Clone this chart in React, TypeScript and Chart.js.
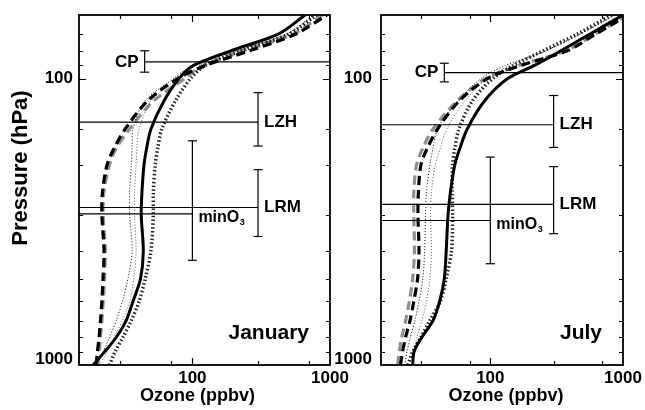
import React, { useEffect, useRef } from 'react';
import { Chart, registerables } from 'chart.js';
Chart.register(...registerables);

const FONT = '"Liberation Sans", Arial, Helvetica, sans-serif';

// Axis ranges and labels
const ozoneMin = 15;
const ozoneMax = 1000;
const pressureTop = 60;
const pressureBottom = 1000;
const xTickLabels = [100, 1000];
const yTickLabels = [100, 1000];

// Pressure levels (hPa) shared by all profiles
const pressureLevels = [1000, 900, 800, 700, 600, 500, 400, 300, 250, 200, 175, 150, 120, 100, 90, 80, 70, 60];

// January ozone profiles (ppbv)
const janSolid = [19, 23, 28, 33, 37, 42, 44, 42.5, 43, 44.5, 46.5, 50, 62, 80, 102, 190, 420, 660];
const janDashed = [20, 20.4, 21, 21.5, 22, 22.4, 22.8, 22, 22.2, 24, 27, 32.5, 47, 78, 125, 260, 560, 950];
const janGrayDashed = [20.5, 21, 21.5, 22, 22.5, 23, 23.3, 22.5, 22.7, 25, 28, 35, 52, 88, 118, 240, 540, 880];
const janThickDotted = [25, 27.4, 31.3, 36, 41, 45.4, 50, 52, 52, 53.7, 56, 60, 75, 97, 124, 225, 500, 800];
const janThinDottedA = [20, 22.4, 25, 28, 31, 34, 36.5, 35, 35, 36, 36.5, 37, 45, 73, 100, 210, 480, 760];
const janThinDottedB = [21, 24, 27, 31, 35, 37.5, 39, 38, 38, 39, 39.5, 41, 50, 78, 105, 215, 490, 780];

// July ozone profiles (ppbv)
const julSolid = [26, 26.6, 30.5, 37, 41.5, 45, 46.5, 48, 50, 54, 59, 67, 90, 135, 215, 340, 560, 1000];
const julDashed = [21, 21.8, 23, 24.8, 26.5, 28.3, 29, 28.5, 28.7, 30, 33.5, 40, 58, 95, 170, 380, 620, 1100];
const julGrayDashed = [20, 20.6, 21.5, 23, 24.5, 26, 26.8, 26.5, 26.5, 27.8, 31, 37, 56, 92, 165, 370, 610, 1080];
const julThickDotted = [24, 26, 30, 35, 42, 46.5, 51, 52, 51.5, 52, 54, 58, 73, 104, 150, 250, 450, 820];
const julThinDottedA = [22.7, 23.5, 25, 27, 29, 31, 32, 32.5, 33, 35, 37, 40, 57, 85, 130, 260, 470, 860];
const julThinDottedB = [25.5, 26.5, 28, 30.5, 33, 35, 36, 35.5, 36, 38.5, 42, 47, 64, 95, 140, 265, 480, 880];

// Marker levels: names, side of the level line, pressure, range bar position & extent
const markerNames = ['CP', 'LZH', 'LRM', 'minO'];
const markerSub = ['', '', '', '3'];
const markerSide = ['right', 'left', 'left', 'left'];
const janMarkerP = [87.5, 142, 282, 297];
const janBarX = [45, 300, 300, 100];
const janBarLow = [80, 112, 208, 165];
const janBarHigh = [95, 172, 356, 431];
const julMarkerP = [95.3, 145, 275, 313];
const julBarX = [45, 300, 300, 100];
const julBarLow = [88.4, 114.6, 203, 188];
const julBarHigh = [102.7, 174, 348, 443];

type PanelDef = {
  month: string;
  series: number[][];
  markerP: number[];
  barX: number[];
  barLow: number[];
  barHigh: number[];
  showYTitle: boolean;
  yLabelGap: number;
  xTitleShift: number;
  padding: { left: number; right: number; top: number; bottom: number };
};

const janDef: PanelDef = {
  month: 'January',
  series: [janSolid, janDashed, janThickDotted, janThinDottedA, janThinDottedB, janGrayDashed],
  markerP: janMarkerP, barX: janBarX, barLow: janBarLow, barHigh: janBarHigh,
  showYTitle: true, yLabelGap: 6, xTitleShift: -7,
  padding: { left: 79, right: 20, top: 15, bottom: 45 },
};
const julDef: PanelDef = {
  month: 'July',
  series: [julSolid, julDashed, julThickDotted, julThinDottedA, julThinDottedB, julGrayDashed],
  markerP: julMarkerP, barX: julBarX, barLow: julBarLow, barHigh: julBarHigh,
  showYTitle: false, yLabelGap: 9, xTitleShift: 4,
  padding: { left: 51, right: 22, top: 15, bottom: 45 },
};

const seriesStyles = [
  { label: 'solid', color: '#000', width: 3, dash: [] as number[] },
  { label: 'dashed', color: '#000', width: 3.2, dash: [9, 5] },
  { label: 'thick dotted', color: '#222', width: 3.5, dash: [1.5, 2.3] },
  { label: 'thin dotted A', color: '#000', width: 1, dash: [1, 2] },
  { label: 'thin dotted B', color: '#555', width: 1, dash: [1, 2] },
  { label: 'gray dashed', color: '#8f8f8f', width: 3.2, dash: [9, 5] },
];

function isDecade(v: number) {
  const l = Math.log10(v);
  return Math.abs(l - Math.round(l)) < 1e-6;
}

function makeDecor(def: PanelDef) {
  return {
    id: 'decor',
    afterDatasetsDraw(chart: any) {
      const { ctx, chartArea: a, scales } = chart;
      const xs = scales.x;
      const ys = scales.y;
      ctx.save();
      ctx.strokeStyle = '#000';
      // inward ticks on all four sides
      ctx.lineWidth = 1.2;
      ctx.beginPath();
      xs.ticks.forEach((t: any) => {
        const v = t.value;
        if (v <= xs.min * 1.001 || v >= xs.max * 0.999) return;
        const px = Math.round(xs.getPixelForValue(v)) + 0.5;
        const len = isDecade(v) ? 7 : 4;
        ctx.moveTo(px, a.bottom); ctx.lineTo(px, a.bottom - len);
        ctx.moveTo(px, a.top); ctx.lineTo(px, a.top + len);
      });
      ys.ticks.forEach((t: any) => {
        const v = t.value;
        if (v <= ys.min * 1.001 || v >= ys.max * 0.999) return;
        const py = Math.round(ys.getPixelForValue(v)) + 0.5;
        const len = isDecade(v) ? 7 : 4;
        ctx.moveTo(a.left, py); ctx.lineTo(a.left + len, py);
        ctx.moveTo(a.right, py); ctx.lineTo(a.right - len, py);
      });
      ctx.stroke();
      // frame
      ctx.lineWidth = 1.8;
      ctx.strokeRect(a.left, a.top, a.right - a.left, a.bottom - a.top);

      ctx.fillStyle = '#000';
      // tick labels
      ctx.font = `bold 17px ${FONT}`;
      ctx.textAlign = 'right';
      ctx.textBaseline = 'middle';
      yTickLabels.forEach((v) => {
        const py = Math.min(ys.getPixelForValue(v), a.bottom - 6);
        ctx.fillText(String(v), a.left - def.yLabelGap, py);
      });
      ctx.textAlign = 'center';
      ctx.textBaseline = 'alphabetic';
      xTickLabels.forEach((v) => {
        ctx.fillText(String(v), xs.getPixelForValue(v), a.bottom + 18);
      });
      // axis titles
      ctx.font = `bold 18px ${FONT}`;
      ctx.fillText('Ozone (ppbv)', (a.left + a.right) / 2 + def.xTitleShift, a.bottom + 36);
      if (def.showYTitle) {
        ctx.save();
        ctx.translate(21, 168);
        ctx.rotate(-Math.PI / 2);
        ctx.font = `bold 22px ${FONT}`;
        ctx.textAlign = 'center';
        ctx.textBaseline = 'middle';
        ctx.fillText('Pressure (hPa)', 0, 0);
        ctx.restore();
      }
      // month label
      ctx.font = `bold 21px ${FONT}`;
      ctx.textAlign = 'right';
      ctx.textBaseline = 'alphabetic';
      ctx.fillText(def.month, a.right - 21, 339);

      // marker labels
      markerNames.forEach((name, i) => {
        const bx = xs.getPixelForValue(def.barX[i]);
        const ly = ys.getPixelForValue(def.markerP[i]);
        ctx.textBaseline = 'middle';
        if (markerSide[i] === 'right') {
          ctx.font = `bold 17px ${FONT}`;
          ctx.textAlign = 'right';
          ctx.fillText(name, bx - 6, ly);
        } else if (markerSub[i]) {
          ctx.font = `bold 16px ${FONT}`;
          ctx.textAlign = 'left';
          const ty = ly + 4;
          ctx.fillText(name, bx + 6, ty);
          const w = ctx.measureText(name).width;
          ctx.font = `bold 9px ${FONT}`;
          ctx.fillText(markerSub[i], bx + 6 + w + 0.5, ty + 5);
        } else {
          ctx.font = `bold 17px ${FONT}`;
          ctx.textAlign = 'left';
          ctx.fillText(name, bx + 6, ly);
        }
      });
      ctx.restore();
    },
  };
}

function makeConfig(def: PanelDef): any {
  const pts = (vals: number[]) => vals.map((x, i) => ({ x, y: pressureLevels[i] }));
  const datasets: any[] = [];
  markerNames.forEach((name, i) => {
    const right = markerSide[i] === 'right';
    const x0 = right ? def.barX[i] : ozoneMin;
    const x1 = right ? ozoneMax : def.barX[i];
    datasets.push({
      label: name + ' level',
      data: [{ x: x0, y: def.markerP[i] }, { x: x1, y: def.markerP[i] }],
      borderColor: '#000', borderWidth: 1.2, pointRadius: 0, showLine: true, tension: 0,
    });
    datasets.push({
      label: name + ' range',
      data: [{ x: def.barX[i], y: def.barLow[i] }, { x: def.barX[i], y: def.barHigh[i] }],
      borderColor: '#000', borderWidth: 1.2, showLine: true, tension: 0,
      pointStyle: 'line', pointRadius: 4.5, pointBorderWidth: 1.2, pointBorderColor: '#000',
      pointBackgroundColor: '#000',
    });
  });
  def.series.forEach((vals, i) => {
    const s = seriesStyles[i];
    datasets.push({
      label: s.label,
      data: pts(vals),
      borderColor: s.color,
      borderWidth: s.width,
      borderDash: s.dash,
      pointRadius: 0,
      showLine: true,
      tension: 0.3,
      fill: false,
    });
  });
  return {
    type: 'scatter',
    data: { datasets },
    options: {
      animation: false,
      responsive: false,
      events: [],
      layout: { padding: def.padding },
      plugins: { legend: { display: false }, tooltip: { enabled: false } },
      scales: {
        x: { type: 'logarithmic', min: ozoneMin, max: ozoneMax, display: false },
        y: { type: 'logarithmic', min: pressureTop, max: pressureBottom, reverse: true, display: false },
      },
    },
    plugins: [makeDecor(def)],
  };
}

function Panel({ def, left, width }: { def: PanelDef; left: number; width: number }) {
  const ref = useRef<HTMLCanvasElement>(null);
  useEffect(() => {
    const chart = new Chart(ref.current as HTMLCanvasElement, makeConfig(def));
    return () => chart.destroy();
  }, [def]);
  return (
    <canvas
      ref={ref}
      width={width}
      height={410}
      style={{ position: 'absolute', left, top: 0, width, height: 410 }}
    />
  );
}

export default function App() {
  return (
    <div style={{ position: 'fixed', left: 0, top: 0, width: 645, height: 410, background: '#fff' }}>
      <Panel def={janDef} left={0} width={350} />
      <Panel def={julDef} left={330} width={315} />
    </div>
  );
}
